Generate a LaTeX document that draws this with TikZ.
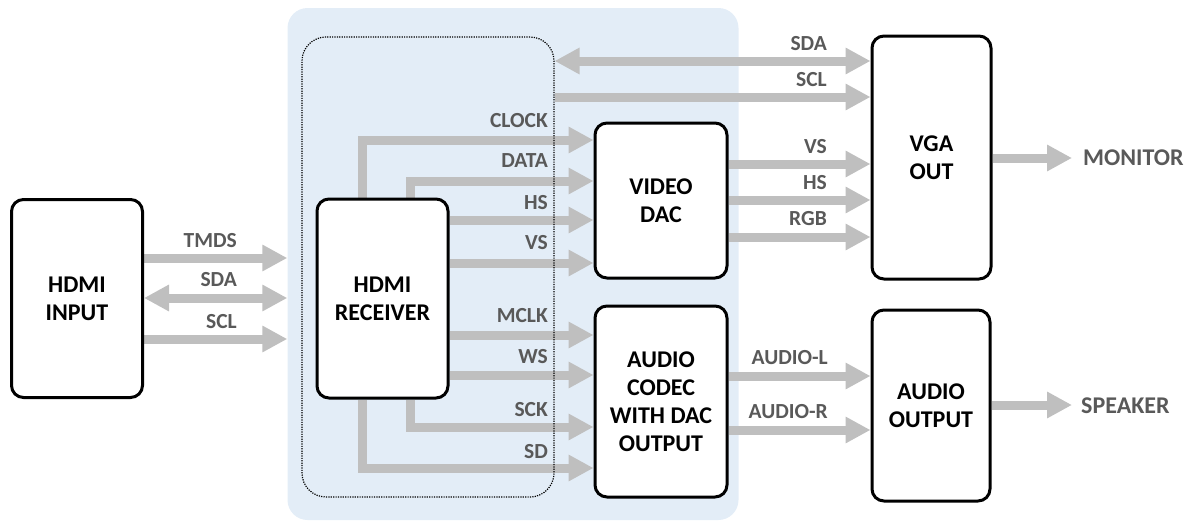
\documentclass[tikz,border=0pt]{standalone}
\usepackage{fontspec}
\setmainfont{Carlito}
\usetikzlibrary{arrows.meta}
\definecolor{bgblue}{HTML}{E3EDF7}
\definecolor{sigg}{HTML}{BFBFBF}
\definecolor{labg}{HTML}{595959}
\pgfdeclarelayer{bglayer}
\pgfdeclarelayer{midlayer}
\pgfsetlayers{bglayer,midlayer,main}
\tikzset{
  blk/.style={draw, line width=3pt, rounded corners=12pt, fill=white, align=center,
    font=\fontsize{24}{28}\selectfont\bfseries, inner sep=0pt},
  sig/.style={draw=sigg, line width=9pt, -{Triangle[width=25pt,length=25pt]}},
  dsig/.style={draw=sigg, line width=9pt, {Triangle[width=25pt,length=25pt]}-{Triangle[width=25pt,length=25pt]}},
  lab/.style={text=labg, font=\fontsize{21.5}{24}\selectfont\bfseries, inner sep=0pt},
  biglab/.style={text=labg, font=\fontsize{24}{28}\selectfont\bfseries, inner sep=0pt},
}
\begin{document}
\begin{tikzpicture}[x=1pt,y=-1pt]
\useasboundingbox (0,0) rectangle (1202,522);
% boxes
\node[blk, minimum width=131pt, minimum height=198pt] (hin) at (77,298.5) {HDMI\\INPUT};
\node[blk, minimum width=131pt, minimum height=199pt] (rcv) at (382.5,298.5) {HDMI\\RECEIVER};
\node[blk, minimum width=132pt, minimum height=155pt] (vdac) at (661,200.5) {VIDEO\\DAC};
\node[blk, minimum width=132pt, minimum height=191pt] (codec) at (661,401.5) {AUDIO\\CODEC\\WITH DAC\\OUTPUT};
\node[blk, minimum width=119pt, minimum height=243pt] (vga) at (931.5,157.5) {VGA\\OUT};
\node[blk, minimum width=118pt, minimum height=191pt] (aout) at (931,405.5) {AUDIO\\OUTPUT};
% dotted group
\node[draw, line width=1.2pt, dash pattern=on 1.2pt off 1.2pt, rounded corners=24pt,
  minimum width=252pt, minimum height=460pt, inner sep=0pt] (grp) at (428,267) {};
% background panel
\begin{pgfonlayer}{bglayer}
\node[fill=bgblue, rounded corners=20pt, minimum width=451pt, minimum height=512pt, inner sep=0pt] (panel) at (513,264) {};
\end{pgfonlayer}
% row coordinates
\coordinate (yTMDS) at (0,258);
\coordinate (ySDAi) at (0,298);
\coordinate (ySCLi) at (0,339);
\coordinate (yCLK) at (0,140);
\coordinate (yDATA) at (0,181);
\coordinate (yHS) at (0,220);
\coordinate (yVS) at (0,263);
\coordinate (yMCLK) at (0,335);
\coordinate (yWS) at (0,375);
\coordinate (ySCK) at (0,427);
\coordinate (ySD) at (0,468);
\coordinate (xOut) at (362,0);
\coordinate (xIn) at (410,0);
\coordinate (ySDAo) at (0,61);
\coordinate (ySCLo) at (0,97);
\coordinate (yVSo) at (0,164);
\coordinate (yHSo) at (0,200);
\coordinate (yRGB) at (0,237);
\coordinate (yAL) at (0,376);
\coordinate (yAR) at (0,430);
\coordinate (monitor) at (1072,158);
\coordinate (speaker) at (1072,405);
\begin{pgfonlayer}{midlayer}
\draw[sig] (hin.east |- yTMDS) -- (panel.west |- yTMDS);
\draw[dsig] (hin.east |- ySDAi) -- (panel.west |- ySDAi);
\draw[sig] (hin.east |- ySCLi) -- (panel.west |- ySCLi);
\draw[sig] (rcv.north -| xOut) |- (vdac.west |- yCLK);
\draw[sig] (rcv.north -| xIn) |- (vdac.west |- yDATA);
\draw[sig] (rcv.east |- yHS) -- (vdac.west |- yHS);
\draw[sig] (rcv.east |- yVS) -- (vdac.west |- yVS);
\draw[sig] (rcv.east |- yMCLK) -- (codec.west |- yMCLK);
\draw[sig] (rcv.east |- yWS) -- (codec.west |- yWS);
\draw[sig] (rcv.south -| xIn) |- (codec.west |- ySCK);
\draw[sig] (rcv.south -| xOut) |- (codec.west |- ySD);
\draw[dsig] (grp.east |- ySDAo) -- (vga.west |- ySDAo);
\draw[sig] (grp.east |- ySCLo) -- (vga.west |- ySCLo);
\draw[sig] (vdac.east |- yVSo) -- (vga.west |- yVSo);
\draw[sig] (vdac.east |- yHSo) -- (vga.west |- yHSo);
\draw[sig] (vdac.east |- yRGB) -- (vga.west |- yRGB);
\draw[sig] (codec.east |- yAL) -- (aout.west |- yAL);
\draw[sig] (codec.east |- yAR) -- (aout.west |- yAR);
\draw[sig] (vga.east |- monitor) -- (monitor);
\draw[sig] (aout.east |- speaker) -- (speaker);
\end{pgfonlayer}
% labels
\node[lab, anchor=east] (lTMDS) at (237,241) {TMDS};
\node[lab, anchor=east] (lSDAi) at (237,280) {SDA};
\node[lab, anchor=east] (lSCLi) at (237,322) {SCL};
\node[lab, anchor=east] (lCLK) at (548,121) {CLOCK};
\node[lab, anchor=east] (lDATA) at (548,161) {DATA};
\node[lab, anchor=east] (lHS) at (548,203) {HS};
\node[lab, anchor=east] (lVS) at (548,243) {VS};
\node[lab, anchor=east] (lMCLK) at (548,316) {MCLK};
\node[lab, anchor=east] (lWS) at (548,357) {WS};
\node[lab, anchor=east] (lSCK) at (548,410) {SCK};
\node[lab, anchor=east] (lSD) at (548,452) {SD};
\node[lab, anchor=east] (lSDAo) at (827,44) {SDA};
\node[lab, anchor=east] (lSCLo) at (827,80) {SCL};
\node[lab, anchor=east] (lVSo) at (827,147) {VS};
\node[lab, anchor=east] (lHSo) at (827,183) {HS};
\node[lab, anchor=east] (lRGB) at (827,219) {RGB};
\node[lab, anchor=east] (lAL) at (828,358) {AUDIO-L};
\node[lab, anchor=east] (lAR) at (828,412) {AUDIO-R};
\node[biglab, anchor=west] (lMON) at (1083,158) {MONITOR};
\node[biglab, anchor=west] (lSPK) at (1081,406) {SPEAKER};
\end{tikzpicture}
\end{document}
